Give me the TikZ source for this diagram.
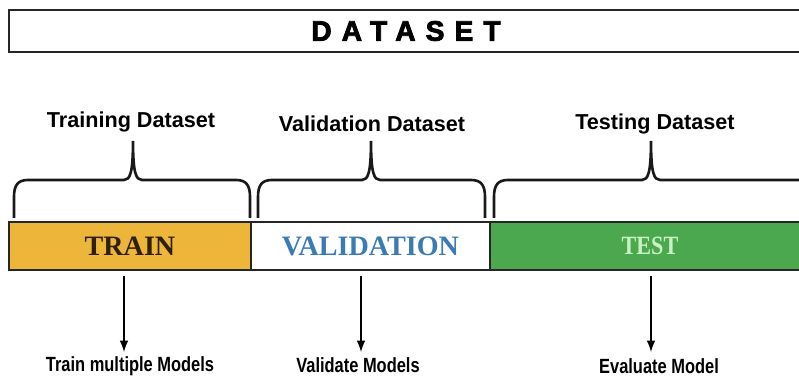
\documentclass[tikz,border=0pt]{standalone}
\usepackage{fontspec}
\setmainfont{Liberation Serif}
\setsansfont{Liberation Sans}
\newfontfamily\narrowfont{Liberation Sans}[FakeStretch=0.8]
\newfontfamily\testfont{Liberation Serif}[FakeStretch=0.84]
\newfontfamily\titlefont{Liberation Sans}[LetterSpace=36,FakeBold=3]
\usetikzlibrary{positioning}
\tikzset{>=latex}
\definecolor{trainc}{HTML}{EEB53B}
\definecolor{testc}{HTML}{4BA84F}
\definecolor{traintxt}{HTML}{2E200C}
\definecolor{validtxt}{HTML}{3A7BB6}
\definecolor{testtxt}{HTML}{C8F1C4}
\tikzstyle{part}=[rectangle,draw=black!85,line width=1.3pt,minimum height=0.96cm,
  inner sep=0pt,outer sep=0pt,font=\rmfamily\bfseries\fontsize{16}{16}\selectfont]
\tikzstyle{dsbox}=[rectangle,draw=black!85,line width=1.3pt,minimum height=0.84cm,
  minimum width=15.88cm,inner sep=0pt]
\tikzstyle{bracel}=[line width=1.5pt,black!90]
\tikzstyle{setname}=[font=\sffamily\bfseries\fontsize{12.3}{12.3}\selectfont]
\tikzstyle{usage}=[font=\narrowfont\bfseries\fontsize{11.7}{11.7}\selectfont]
\tikzstyle{flow}=[->,line width=1.2pt]
\newcommand{\setbrace}[3]{%
  \draw[bracel] (#1,218) -- (#1,197) .. controls (#1,185) and (#1+4,180) .. (#1+14,180)
    -- (#2-9,180) .. controls (#2-3,180) and (#2,173) .. (#2,141)
    .. controls (#2,173) and (#2+3,180) .. (#2+9,180)
    -- (#3-14,180) .. controls (#3-4,180) and (#3,185) .. (#3,197) -- (#3,218);}

\begin{document}
\begin{tikzpicture}[x=0.02cm,y=-0.02cm]
  \useasboundingbox (0,0) rectangle (799,377);

  \node (ds) [dsbox] at (406,31) {\titlefont\bfseries\fontsize{16}{16}\selectfont DATASET};

  % the three parts of the bar
  \node (train) [part,minimum width=4.84cm,fill=trainc,text=traintxt] at (130,246) {TRAIN};
  \node (valid) [part,minimum width=4.78cm,fill=white,text=validtxt,right=0pt of train] {VALIDATION};
  \node (test) [part,minimum width=6.4cm,fill=testc,text=testtxt,right=0pt of valid] {};
  \node (testlbl) [font=\testfont\bfseries\fontsize{15}{15}\selectfont,text=testtxt] at (650,246) {TEST};

  % braces and their names
  \setbrace{14}{133}{250}
  \setbrace{258}{371}{485}
  \setbrace{494}{651}{840}
  \node (trainset) [setname] at (131,122) {Training Dataset};
  \node (validset) [setname] at (372,124) {Validation Dataset};
  \node (testset) [setname] at (655,124) {Testing Dataset};

  % what each part is used for
  \node (trainuse) [usage] at (130,366) {Train multiple Models};
  \node (validuse) [usage] at (358,365) {Validate Models};
  \node (testuse) [usage] at (659,366) {Evaluate Model};

  \coordinate (a1) at (124,352);
  \coordinate (a2) at (361,352);
  \coordinate (a3) at (651,352);
  \draw[flow] (a1 |- train.south) ++(0,6) -- (a1);
  \draw[flow] (a2 |- valid.south) ++(0,6) -- (a2);
  \draw[flow] (a3 |- test.south) ++(0,6) -- (a3);
\end{tikzpicture}
\end{document}
